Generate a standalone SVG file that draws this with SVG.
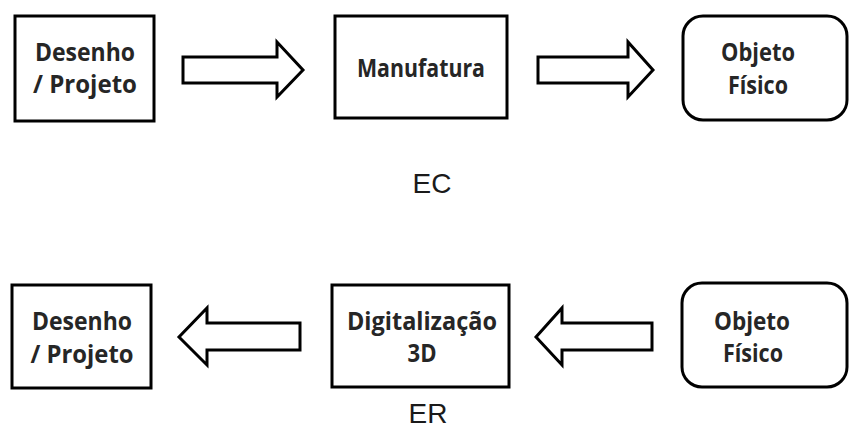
<svg xmlns="http://www.w3.org/2000/svg" width="849" height="441" viewBox="0 0 849 441">
  <style>
    .box { fill: #ffffff; stroke: #000000; stroke-width: 3; }
    .arrow { fill: #ffffff; stroke: #000000; stroke-width: 3; stroke-linejoin: miter; }
    .lbl { font-family: "Open Sans", "Noto Sans", sans-serif; font-weight: 700; font-size: 25px; fill: #262626; text-anchor: middle; }
    .cap { font-family: "Liberation Sans", Arial, sans-serif; font-size: 28px; fill: #1a1a1a; text-anchor: middle; }
  </style>
  <rect width="849" height="441" fill="#ffffff"/>

  <!-- EC row: design -> manufacture -> physical object -->
  <g id="ec-desenho">
    <rect class="box" x="15" y="16" width="139" height="105"/>
    <text class="lbl" x="85" y="61" textLength="100" lengthAdjust="spacingAndGlyphs">Desenho</text>
    <text class="lbl" x="85" y="93" textLength="104" lengthAdjust="spacingAndGlyphs">/ Projeto</text>
  </g>
  <g id="ec-manufatura">
    <rect class="box" x="335" y="16" width="172" height="102"/>
    <text class="lbl" x="421" y="77" textLength="128" lengthAdjust="spacingAndGlyphs">Manufatura</text>
  </g>
  <g id="ec-objeto">
    <rect class="box" x="683" y="16" width="164" height="104" rx="20" ry="20"/>
    <text class="lbl" x="758" y="61" textLength="74" lengthAdjust="spacingAndGlyphs">Objeto</text>
    <text class="lbl" x="758" y="94" textLength="60" lengthAdjust="spacingAndGlyphs">Físico</text>
  </g>
  <text id="ec-label" class="cap" x="432" y="193">EC</text>

  <!-- ER row: physical object -> 3D scan -> design -->
  <g id="er-desenho">
    <rect class="box" x="12" y="285" width="139" height="103"/>
    <text class="lbl" x="82" y="330" textLength="100" lengthAdjust="spacingAndGlyphs">Desenho</text>
    <text class="lbl" x="82" y="363" textLength="103" lengthAdjust="spacingAndGlyphs">/ Projeto</text>
  </g>
  <g id="er-digitalizacao">
    <rect class="box" x="332" y="285" width="177" height="102"/>
    <text class="lbl" x="422" y="330" textLength="150" lengthAdjust="spacingAndGlyphs">Digitalização</text>
    <text class="lbl" x="422" y="362" textLength="29" lengthAdjust="spacingAndGlyphs">3D</text>
  </g>
  <g id="er-objeto">
    <rect class="box" x="682" y="283" width="165" height="104" rx="20" ry="20"/>
    <text class="lbl" x="752" y="330" textLength="76" lengthAdjust="spacingAndGlyphs">Objeto</text>
    <text class="lbl" x="753" y="362" textLength="60" lengthAdjust="spacingAndGlyphs">Físico</text>
  </g>
  <text id="er-label" class="cap" x="428" y="423">ER</text>

  <!-- block arrows -->
  <g id="connectors">
    <polygon class="arrow" points="183,57 277,57 277,42 303,70 277,97 277,83 183,83"/>
    <polygon class="arrow" points="538,57 628,57 628,42 653,70 628,97 628,83 538,83"/>
    <polygon class="arrow" points="300,323 207,323 207,308 179,337 207,365 207,350 300,350"/>
    <polygon class="arrow" points="652,323 562,323 562,308 536,337 562,365 562,350 652,350"/>
  </g>
</svg>
